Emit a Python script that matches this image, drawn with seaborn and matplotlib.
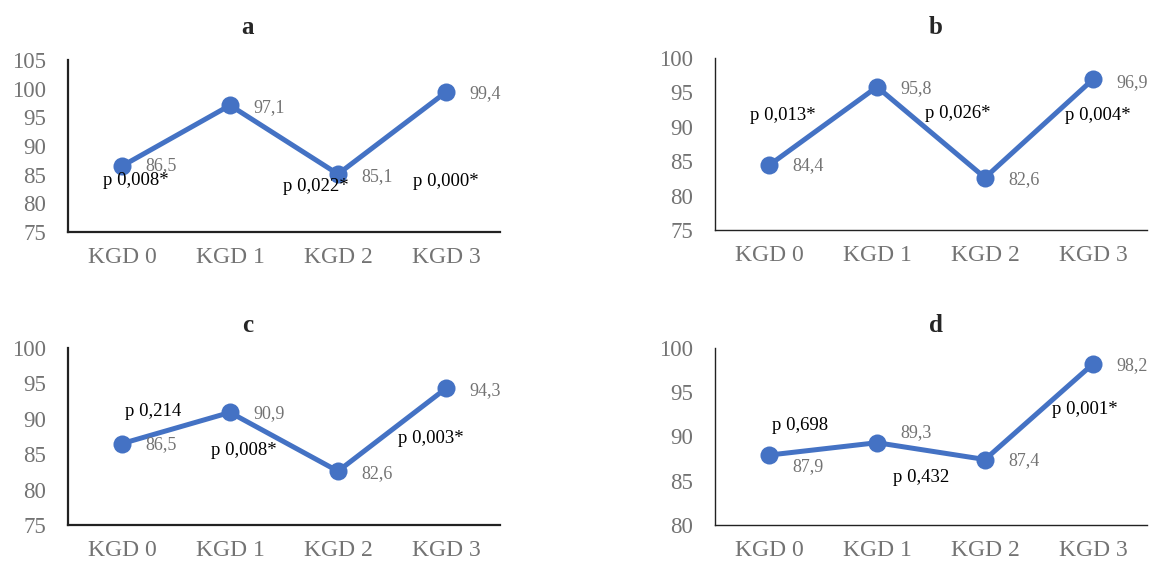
import matplotlib
matplotlib.use("Agg")
import matplotlib.pyplot as plt
import seaborn as sns
import pandas as pd

# Data
groups = ["KGD 0", "KGD 1", "KGD 2", "KGD 3"]
vals_a = [86.5, 97.1, 85.1, 99.4]
vals_b = [84.4, 95.8, 82.6, 96.9]
vals_c = [86.5, 90.9, 82.6, 94.3]
vals_d = [87.9, 89.3, 87.4, 98.2]
p_a = ["p 0,008*", "p 0,022*", "p 0,000*"]
p_b = ["p 0,013*", "p 0,026*", "p 0,004*"]
p_c = ["p 0,214", "p 0,008*", "p 0,003*"]
p_d = ["p 0,698", "p 0,432", "p 0,001*"]
ylims_a = (75, 105)
ylims_b = (75, 100)
ylims_c = (75, 100)
ylims_d = (80, 100)

sns.set_style("white")
plt.rcParams["font.family"] = ["Liberation Serif", "DejaVu Serif"]

W, H = 1154, 563
fig = plt.figure(figsize=(W / 100, H / 100), dpi=100)

blue = "#4472C4"
grey = "#737373"

# layout: axes box in pixels (left, top, right, bottom), title pos, p-label positions (data), value label offsets (pt)
panels = [
    dict(name="a", vals=vals_a, p=p_a, ylim=ylims_a, box=(68, 60, 500, 232), title=(248, 27),
         ppos=[(0.13, 84.0), (1.79, 82.9), (3.0, 83.8)],
         voff=[(17, 0), (17, -1.5), (17, -1.5), (17, -1)], spine=1.6),
    dict(name="b", vals=vals_b, p=p_b, ylim=ylims_b, box=(715, 58, 1147, 230), title=(936, 27),
         ppos=[(0.13, 91.7), (1.75, 92.0), (3.04, 91.7)],
         voff=[(17, 0), (17, -1.5), (17, -1.5), (17, -2)], spine=1.0),
    dict(name="c", vals=vals_c, p=p_c, ylim=ylims_c, box=(68, 348, 500, 525), title=(248, 325),
         ppos=[(0.29, 91.1), (1.13, 85.5), (2.86, 87.25)],
         voff=[(17, -1), (17, -1), (17, -1.5), (17, -1.5)], spine=1.6),
    dict(name="d", vals=vals_d, p=p_d, ylim=ylims_d, box=(715, 348, 1147, 525), title=(936, 325),
         ppos=[(0.29, 91.2), (1.41, 85.4), (2.92, 93.0)],
         voff=[(17, -8.5), (17, 7.5), (17, -0.5), (17, -1)], spine=1.0),
]

for pn in panels:
    l, t, r, b = pn["box"]
    ax = fig.add_axes([l / W, 1 - b / H, (r - l) / W, (b - t) / H])
    df = pd.DataFrame({"group": groups, "value": pn["vals"]})
    sns.lineplot(data=df, x="group", y="value", ax=ax, color=blue, linewidth=3.6,
                 marker="o", markersize=13, markeredgewidth=0, sort=False)
    ax.set_xlim(-0.5, 3.5)
    ax.set_ylim(*pn["ylim"])
    ax.set_yticks(range(pn["ylim"][0], pn["ylim"][1] + 1, 5))
    ax.set_xlabel("")
    ax.set_ylabel("")
    for s in ["top", "right"]:
        ax.spines[s].set_visible(False)
    for s in ["left", "bottom"]:
        ax.spines[s].set_color("#222222")
        ax.spines[s].set_linewidth(pn["spine"])
    ax.tick_params(axis="y", length=0, pad=16, labelsize=16.5, labelcolor=grey)
    ax.tick_params(axis="x", length=0, pad=11, labelsize=17, labelcolor=grey)

    # value labels
    for i, v in enumerate(pn["vals"]):
        ax.annotate(f"{v:.1f}".replace(".", ","), (i, v), xytext=pn["voff"][i],
                    textcoords="offset points", ha="left", va="center",
                    fontsize=13, color=grey)
    # p-value labels
    for (x, y), txt in zip(pn["ppos"], pn["p"]):
        ax.text(x, y, txt, ha="center", va="center", fontsize=13.5, color="black")

    fig.text(pn["title"][0] / W, 1 - pn["title"][1] / H, pn["name"], ha="center", va="center",
             fontsize=18, fontweight="bold")

fig.savefig("out.png", dpi=100)
